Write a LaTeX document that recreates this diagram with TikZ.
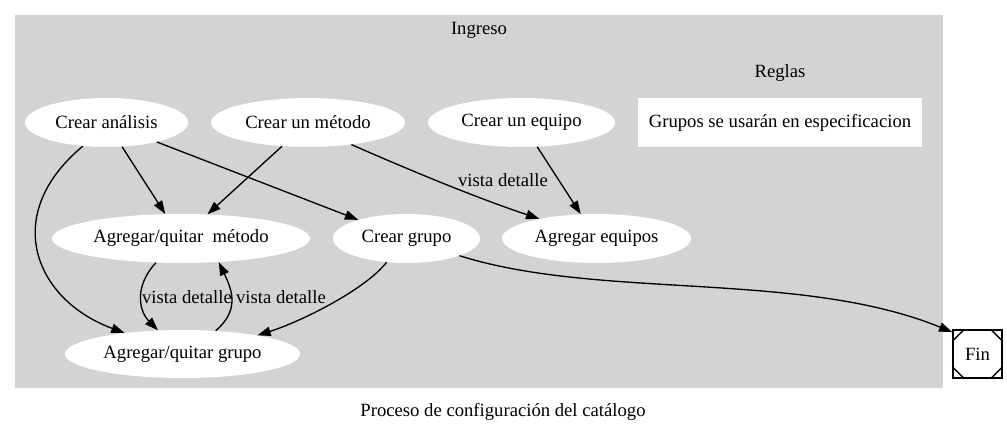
\documentclass[tikz,border=0pt]{standalone}
\usepackage{fontspec}
\setmainfont{Liberation Serif}
\usetikzlibrary{arrows.meta,shapes.geometric}
\definecolor{clgray}{HTML}{D3D3D3}
\begin{document}
\begin{tikzpicture}[x=1pt,y=-1pt,
  every node/.style={font=\rmfamily\fontsize{18.67}{22}\selectfont},
  ell/.style={ellipse, fill=white, inner sep=0pt, minimum height=49pt},
  conn/.style={line width=1.33pt, -{Triangle[length=13.3pt,width=9.3pt]}},
  lbl/.style={inner sep=0pt}
]
\useasboundingbox (0,0) rectangle (1007,436);
% cluster background
\fill[clgray] (15,15) rectangle (943,388);
\node (ingreso) at (479,30) {Ingreso};
\node (reglas) at (780,73) {Reglas};
\node[fill=white, minimum width=284pt, minimum height=49pt, inner sep=0pt] (grupos) at (780,122.5) {Grupos se usarán en especificacion};
% nodes
\node[ell, minimum width=163pt] (ca) at (106.5,122.5) {Crear análisis};
\node[ell, minimum width=194pt] (cm) at (308,122.5) {Crear un método};
\node[ell, minimum width=187pt] (ce) at (521.5,122.5) {Crear un equipo};
\node[ell, minimum width=258pt] (aqm) at (181,238.5) {Agregar/quitar\ \ método};
\node[ell, minimum width=147pt] (cg) at (406.5,238.5) {Crear grupo};
\node[ell, minimum width=189pt] (ae) at (596.5,238.5) {Agregar equipos};
\node[ell, minimum width=235pt, minimum height=48pt] (aqg) at (182.5,354) {Agregar/quitar grupo};
\node[draw, line width=1.33pt, fill=white, minimum width=49pt, minimum height=48pt, inner sep=0pt] (fin) at (977.5,354) {Fin};
\draw[line width=1.33pt] ([yshift=-12pt]fin.north west) -- ([xshift=12pt]fin.north west);
\draw[line width=1.33pt] ([yshift=-12pt]fin.north east) -- ([xshift=-12pt]fin.north east);
\draw[line width=1.33pt] ([yshift=12pt]fin.south west) -- ([xshift=12pt]fin.south west);
\draw[line width=1.33pt] ([yshift=12pt]fin.south east) -- ([xshift=-12pt]fin.south east);
% caption
\node (caption) at (503,412) {Proceso de configuración del catálogo};
% edges
\draw[conn] (ca.-135) .. controls (0,215) and (35,300) .. (aqg.160);
\draw[conn] (ca) -- (aqm);
\draw[conn] (ca) -- (cg);
\draw[conn] (cm) -- (aqm);
\draw[conn] (cm.-27) .. controls (414,172) and (477,198) .. (ae.161);
\draw[conn] (ce) -- (ae);
\draw[conn] (aqm.-136) .. controls (135,285) and (138,310) .. (aqg.136);
\draw[conn] (aqg.35) .. controls (240,310) and (232,290) .. (aqm.-32);
\draw[conn] (cg.-130) .. controls (365,290) and (300,322) .. (aqg.14);
\draw[conn] (cg.-18) .. controls (600,300) and (800,270) .. (fin.139);
% edge labels
\node[lbl] (l1) at (503,180.5) {vista detalle};
\node[lbl] (l2) at (187,297) {vista detalle};
\node[lbl] (l3) at (281,297) {vista detalle};
\end{tikzpicture}
\end{document}
